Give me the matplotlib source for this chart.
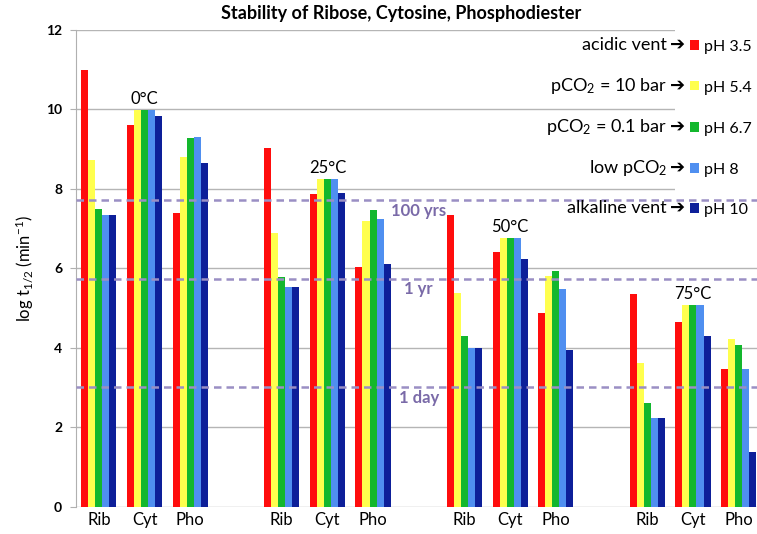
import numpy as np
import matplotlib.pyplot as plt
from matplotlib.patches import Rectangle

plt.rcParams['font.family'] = ['Lato', 'DejaVu Sans']
plt.rcParams['mathtext.fontset'] = 'custom'
plt.rcParams['mathtext.rm'] = 'Lato'
plt.rcParams['mathtext.it'] = 'Lato:italic'

temps = ['0°C', '25°C', '50°C', '75°C']
molecules = ['Rib', 'Cyt', 'Pho']
ph_labels = ['pH 3.5', 'pH 5.4', 'pH 6.7', 'pH 8', 'pH 10']
sources = ['acidic vent', 'pCO$_2$ = 10 bar', 'pCO$_2$ = 0.1 bar', 'low pCO$_2$', 'alkaline vent']
colors = ['#ff0d0d', '#ffff4d', '#13b72d', '#4f8ff0', '#0d1f99']

# log t1/2 per temperature -> molecule -> pH (3.5, 5.4, 6.7, 8, 10)
vals_0 = [[11.0, 8.72, 7.50, 7.33, 7.33],
          [9.62, 9.98, 9.98, 9.98, 9.84],
          [7.40, 8.81, 9.27, 9.31, 8.65]]
vals_25 = [[9.04, 6.90, 5.77, 5.52, 5.52],
           [7.87, 8.25, 8.25, 8.25, 7.90],
           [6.04, 7.19, 7.46, 7.24, 6.10]]
vals_50 = [[7.34, 5.37, 4.29, 4.00, 4.00],
           [6.40, 6.76, 6.76, 6.76, 6.24],
           [4.88, 5.81, 5.92, 5.49, 3.93]]
vals_75 = [[5.36, 3.62, 2.61, 2.24, 2.24],
           [4.64, 5.07, 5.07, 5.07, 4.29],
           [3.47, 4.22, 4.06, 3.47, 1.36]]
all_vals = [vals_0, vals_25, vals_50, vals_75]

ref_vals = [7.72, 5.74, 3.01]
ref_labels = ['100 yrs', '1 yr', '1 day']

fig = plt.figure(figsize=(7.57, 5.34), dpi=100)
W, H = 757, 534
ax = fig.add_axes([76 / W, 1 - 506.5 / H, 681 / W, 476.5 / H])

bw = 0.154
cat_pos = []
for g in range(4):
    for m in range(3):
        cat_pos.append(g * 4 + m)
cat_pos = np.array(cat_pos)

for g, vals in enumerate(all_vals):
    vals = np.array(vals)
    for k in range(5):
        x = g * 4 + np.arange(3) + (k - 2) * bw
        ax.bar(x, vals[:, k], width=bw, color=colors[k], zorder=3)
    ax.text(g * 4 + 1, vals[1].max() + 0.08, temps[g], ha='center', va='bottom',
            fontsize=12, color='black', zorder=5)

ax.set_xlim(-0.5, -0.5 + 681 / 45.7)
ax.set_ylim(0, 12)
ax.set_xticks(cat_pos)
ax.set_xticklabels(molecules * 4, fontsize=12)
ax.tick_params(axis='x', length=0, pad=4)
ax.set_yticks(range(0, 13, 2))
ax.set_yticklabels([str(v) for v in range(0, 13, 2)], fontsize=10, fontweight='bold')
ax.tick_params(axis='y', length=4, color='#b0b0b0', pad=6)
for s in ['top', 'right', 'bottom']:
    ax.spines[s].set_visible(False)
ax.spines['left'].set_color('#b0b0b0')
for v in range(0, 13, 2):
    ax.axhline(v, color='#b5b5b5', lw=1, zorder=1)

# white box behind the legend
ax.add_patch(Rectangle((675 / W, 1 - 197 / H), 1, 0.5, transform=fig.transFigure,
                       facecolor='white', edgecolor='none', zorder=2))

for v, lab in zip(ref_vals, ref_labels):
    ax.axhline(v, color='#9a8fc4', lw=1.8, ls=(0, (3, 2)), zorder=4)
    ax.text(7, v - 0.07, lab, ha='center', va='top', fontsize=12,
            fontweight='bold', color='#7a6aa8', zorder=5)

ax.set_ylabel('log t$_{1/2}$ (min$^{-1}$)', fontsize=12, labelpad=8)

fig.text(401 / W, 1 - 14 / H, 'Stability of Ribose, Cytosine, Phosphodiester',
         ha='center', va='center', fontsize=13, fontweight='bold')

row_y = [45, 86, 127, 168, 208]
for yy, src, ph, c in zip(row_y, sources, ph_labels, colors):
    fy = 1 - yy / H
    fig.text(667 / W, fy, src, ha='right', va='center', fontsize=13)
    fig.text(685 / W, fy, '➔', ha='right', va='center', fontsize=13,
             family='DejaVu Sans', fontweight='bold')
    fig.patches.append(Rectangle((690 / W, fy - 4.5 / H), 9 / W, 9 / H,
                                 transform=fig.transFigure, facecolor=c,
                                 edgecolor='none', figure=fig))
    fig.text(704 / W, fy - 2 / H, ph, ha='left', va='center', fontsize=11.5)

fig.savefig('out.png', dpi=100)
